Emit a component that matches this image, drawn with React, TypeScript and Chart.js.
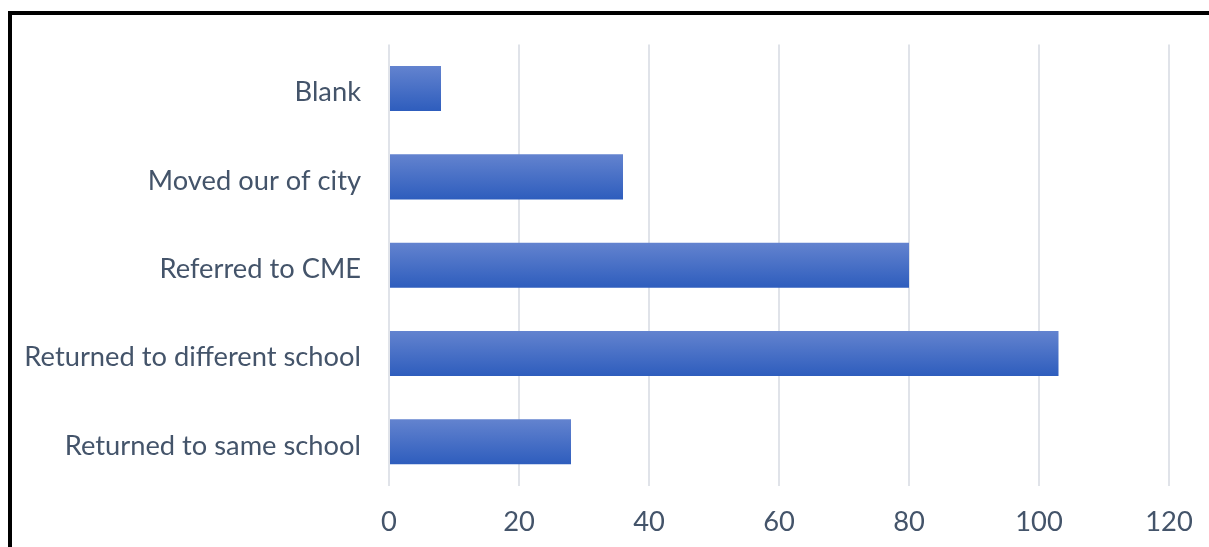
import React, { useEffect, useRef } from "react";
import { Chart, registerables } from "chart.js";

Chart.register(...registerables);

const categories = [
  "Blank",
  "Moved our of city",
  "Referred to CME",
  "Returned to different school",
  "Returned to same school",
];
const values = [8, 36, 80, 103, 28];
const xTicks = [0, 20, 40, 60, 80, 100, 120];

const TEXT = "#44546A";
const FONT = "Lato, 'Open Sans', sans-serif";
const BAR_PCT = 0.51;

export default function App() {
  const ref = useRef<HTMLCanvasElement | null>(null);

  useEffect(() => {
    document.body.style.margin = "0";
    const canvas = ref.current!;
    const chart = new Chart(canvas, {
      type: "bar",
      data: {
        labels: categories,
        datasets: [
          {
            data: values,
            backgroundColor: (ctx: any) => {
              const ch = ctx.chart;
              const ys = ch.scales && ch.scales.y;
              if (!ys || ctx.dataIndex === undefined || !ch.chartArea) return "#3F6CC8";
              const cy = ys.getPixelForValue(ctx.dataIndex);
              const h = ((ch.chartArea.bottom - ch.chartArea.top) / categories.length) * BAR_PCT;
              const g = ch.ctx.createLinearGradient(0, cy - h / 2, 0, cy + h / 2);
              g.addColorStop(0, "#6383CF");
              g.addColorStop(1, "#2E5DBD");
              return g;
            },
            borderWidth: 0,
            categoryPercentage: 1,
            barPercentage: BAR_PCT,
          },
        ],
      },
      options: {
        indexAxis: "y",
        animation: false,
        responsive: false,
        maintainAspectRatio: false,
        layout: { padding: { top: 44, right: 40, left: 0, bottom: 0 } },
        plugins: {
          legend: { display: false },
          tooltip: { enabled: false },
        },
        scales: {
          x: {
            min: 0,
            max: 120,
            afterBuildTicks: (s: any) => {
              s.ticks = xTicks.map((v) => ({ value: v }));
            },
            afterFit: (s: any) => {
              s.height = 61;
              s.paddingRight = 0;
              s.paddingLeft = 0;
            },
            grid: {
              color: "#E0E3E9",
              lineWidth: 2,
              drawTicks: false,
            },
            border: { display: false },
            ticks: {
              color: TEXT,
              font: { family: FONT, size: 27.3 },
              padding: 20,
              maxRotation: 0,
            },
          },
          y: {
            afterFit: (s: any) => {
              s.width = 389;
            },
            grid: { display: false, drawTicks: false },
            border: { display: false },
            ticks: {
              color: TEXT,
              font: { family: FONT, size: 27.3 },
              padding: 28,
              labelOffset: 4,
            },
          },
        },
      },
    } as any);
    return () => chart.destroy();
  }, []);

  return (
    <div style={{ position: "relative", width: 1209, height: 547, overflow: "hidden", background: "#fff" }}>
      <canvas ref={ref} width={1209} height={547} style={{ position: "absolute", left: 0, top: 0 }} />
      <div
        style={{
          position: "absolute",
          left: 8,
          top: 11,
          width: 1400,
          height: 800,
          borderLeft: "4px solid #000",
          borderTop: "4px solid #000",
          pointerEvents: "none",
        }}
      />
    </div>
  );
}
